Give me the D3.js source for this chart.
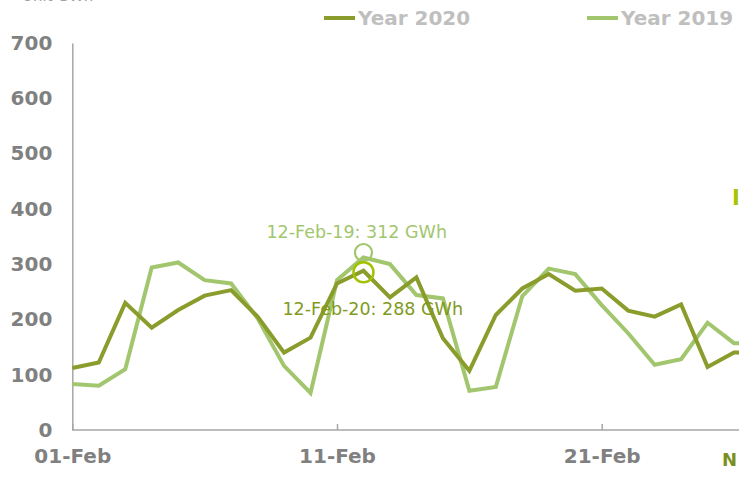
<!DOCTYPE html>
<html>
<head>
<meta charset="utf-8">
<script src="https://cdn.jsdelivr.net/npm/d3@7"></script>
<style>
  body { margin: 0; background: #fff; }
  svg { display: block; font-family: 'DejaVu Sans', Verdana, sans-serif; }
</style>
</head>
<body>
<svg id="chart"></svg>
<script>
// February days shown on the chart
const days = [1, 2, 3, 4, 5, 6, 7, 8, 9, 10, 11, 12, 13, 14, 15, 16, 17, 18, 19, 20, 21, 22, 23, 24, 25, 26, 27];

// Daily values, GWh
const values2020 = [112, 122, 230, 185, 217, 243, 253, 205, 140, 167, 265, 288, 240, 276, 166, 107, 208, 256, 282, 252, 256, 216, 205, 227, 114, 140, 141];
const values2019 = [83, 80, 110, 294, 303, 271, 265, 202, 116, 67, 271, 312, 300, 244, 238, 71, 78, 242, 292, 282, 226, 175, 118, 128, 194, 157, 156];

const yTicks = [0, 100, 200, 300, 400, 500, 600, 700];
const xTickDays = [1, 11, 21];
const xTickLabels = ['01-Feb', '11-Feb', '21-Feb'];

const seriesNames = ['Year 2020', 'Year 2019'];
const peakDay = 12;

const width = 739;
const height = 477;

const color2020 = '#8a9c2c';
const color2019 = '#a2c66e';
const axisColor = '#a6a6a6';
const labelColor = '#808080';

const svg = d3.select('#chart')
  .attr('width', width)
  .attr('height', height);

const xScale = d3.scaleLinear()
  .domain([1, 21])
  .range([72.3, 601.7]);

const yScale = d3.scaleLinear()
  .domain([0, 700])
  .range([430, 43]);

// unit label (mostly cut off at the top)
svg.append('text')
  .attr('x', 22)
  .attr('y', 1)
  .attr('fill', '#a0a0a0')
  .style('font-size', '15px')
  .text('Unit GWh');

// y axis
const yAxis = d3.axisLeft(yScale).tickValues(yTicks).tickSize(0).tickPadding(20);
const gy = svg.append('g')
  .attr('transform', `translate(${xScale(1)}, 0)`)
  .call(yAxis);
gy.select('.domain').attr('stroke', axisColor).attr('stroke-width', 1.5);
gy.selectAll('text')
  .attr('fill', labelColor)
  .style('font-size', '20px')
  .style('font-weight', 'bold')
  .style('font-family', "'DejaVu Sans', Verdana, sans-serif");

// x axis
const xAxis = d3.axisBottom(xScale)
  .tickValues(xTickDays)
  .tickFormat((d, i) => xTickLabels[i])
  .tickSizeInner(-6)
  .tickSizeOuter(0)
  .tickPadding(19);
const gx = svg.append('g')
  .attr('transform', `translate(0, ${yScale(0)})`)
  .call(xAxis);
gx.select('.domain')
  .attr('d', `M${xScale(1)},0H${width + 5}`)
  .attr('stroke', axisColor)
  .attr('stroke-width', 1.5);
gx.selectAll('.tick line').attr('stroke', axisColor).attr('stroke-width', 1.5);
gx.selectAll('text')
  .attr('fill', labelColor)
  .style('font-size', '20px')
  .style('font-weight', 'bold')
  .style('font-family', "'DejaVu Sans', Verdana, sans-serif");

// lines
const line = vals => d3.line()
  .x((d, i) => xScale(days[i]))
  .y(d => yScale(d))(vals);

svg.append('path')
  .attr('d', line(values2019))
  .attr('fill', 'none')
  .attr('stroke', color2019)
  .attr('stroke-width', 4)
  .attr('stroke-linejoin', 'miter');

svg.append('path')
  .attr('d', line(values2020))
  .attr('fill', 'none')
  .attr('stroke', color2020)
  .attr('stroke-width', 4)
  .attr('stroke-linejoin', 'miter');

// peak annotations
const pi = days.indexOf(peakDay);

svg.append('circle')
  .attr('cx', xScale(peakDay))
  .attr('cy', yScale(values2019[pi]) - 5)
  .attr('r', 8.5)
  .attr('fill', 'none')
  .attr('stroke', color2019)
  .attr('stroke-width', 2.2);

svg.append('circle')
  .attr('cx', xScale(peakDay))
  .attr('cy', yScale(values2020[pi]) + 1.5)
  .attr('r', 10)
  .attr('fill', 'none')
  .attr('stroke', '#a4c000')
  .attr('stroke-width', 2.5);

svg.append('text')
  .attr('x', xScale(peakDay) - 97)
  .attr('y', yScale(values2019[pi]) - 20)
  .attr('fill', color2019)
  .style('font-size', '17.5px')
  .text(`12-Feb-19: ${values2019[pi]} GWh`);

svg.append('text')
  .attr('x', xScale(peakDay) - 81)
  .attr('y', yScale(values2020[pi]) + 44)
  .attr('fill', '#7f9a1c')
  .style('font-size', '17.5px')
  .text(`12-Feb-20: ${values2020[pi]} GWh`);

// legend
const legend = svg.append('g').attr('transform', 'translate(324, 18)');
[[0, color2020], [263, color2019]].forEach(([dx, c], i) => {
  const g = legend.append('g').attr('transform', `translate(${dx}, 0)`);
  g.append('line')
    .attr('x1', 0).attr('x2', 31)
    .attr('y1', 0).attr('y2', 0)
    .attr('stroke', c)
    .attr('stroke-width', 4);
  g.append('text')
    .attr('x', 34)
    .attr('y', 7)
    .attr('fill', '#bfbfbf')
    .style('font-size', '20px')
    .style('font-weight', 'bold')
    .text(seriesNames[i]);
});

// labels cut off at the right edge
svg.append('text')
  .attr('x', 732)
  .attr('y', 205)
  .attr('fill', '#a8c400')
  .style('font-size', '21px')
  .style('font-weight', 'bold')
  .text('I');

svg.append('text')
  .attr('x', 722)
  .attr('y', 466)
  .attr('fill', '#7a901c')
  .style('font-size', '18px')
  .style('font-weight', 'bold')
  .text('N');
</script>
</body>
</html>
